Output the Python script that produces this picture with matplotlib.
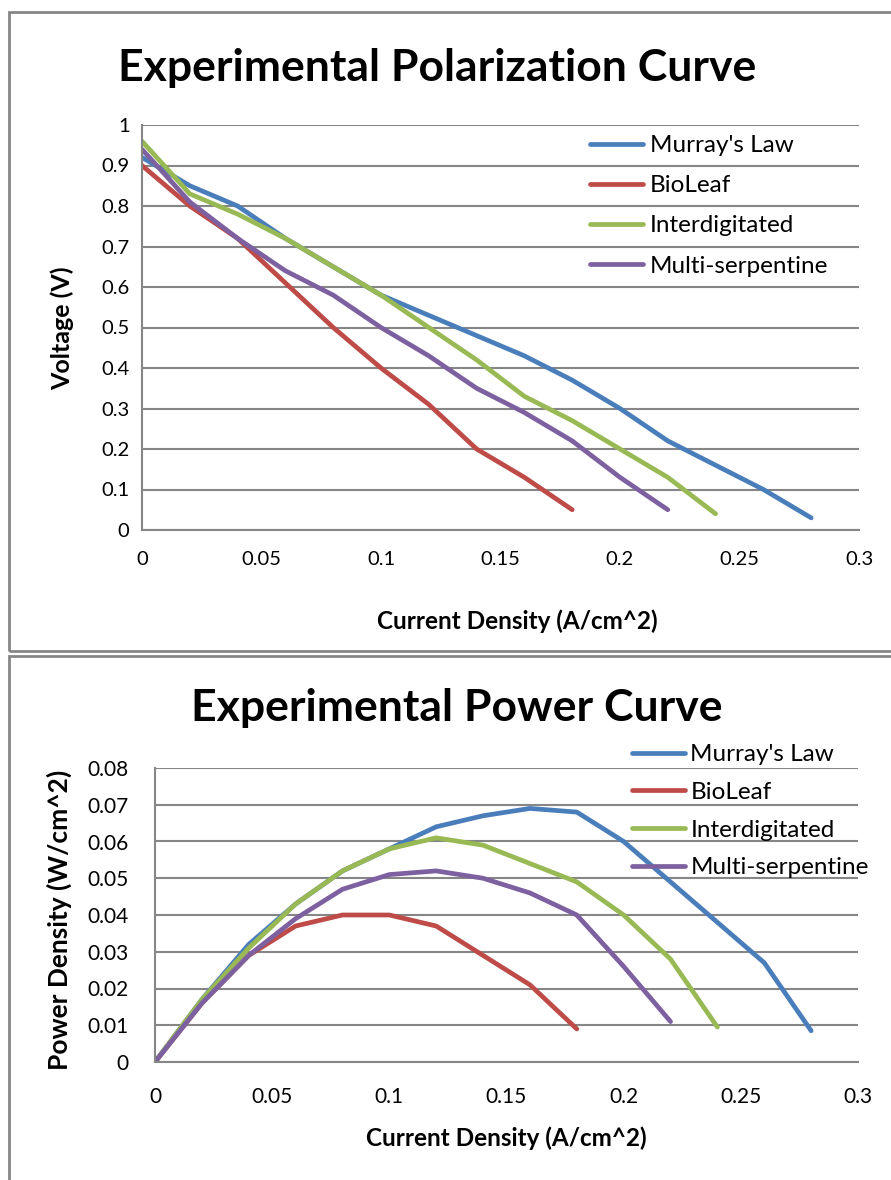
import matplotlib
matplotlib.use("Agg")
import matplotlib.pyplot as plt
from matplotlib.patches import Rectangle

plt.rcParams['font.family'] = ['Lato', 'DejaVu Sans']

# polarization data (A/cm^2, V)
series_names = ["Murray's Law", "BioLeaf", "Interdigitated", "Multi-serpentine"]
series_colors = ["#4A7EBB", "#BE4B48", "#98B954", "#7D60A0"]

murray_i = [0, 0.02, 0.04, 0.06, 0.08, 0.10, 0.12, 0.14, 0.16, 0.18, 0.20, 0.22, 0.24, 0.26, 0.28]
murray_v = [0.92, 0.85, 0.80, 0.72, 0.65, 0.58, 0.53, 0.48, 0.43, 0.37, 0.30, 0.22, 0.16, 0.10, 0.03]
murray_p = [0, 0.017, 0.032, 0.043, 0.052, 0.058, 0.064, 0.067, 0.069, 0.068, 0.060, 0.049, 0.038, 0.027, 0.0085]

bioleaf_i = [0, 0.02, 0.04, 0.06, 0.08, 0.10, 0.12, 0.14, 0.16, 0.18]
bioleaf_v = [0.90, 0.80, 0.72, 0.61, 0.50, 0.40, 0.31, 0.20, 0.13, 0.05]
bioleaf_p = [0, 0.016, 0.029, 0.037, 0.040, 0.040, 0.037, 0.029, 0.021, 0.009]

inter_i = [0, 0.02, 0.04, 0.06, 0.08, 0.10, 0.12, 0.14, 0.16, 0.18, 0.20, 0.22, 0.24]
inter_v = [0.96, 0.83, 0.78, 0.72, 0.65, 0.58, 0.50, 0.42, 0.33, 0.27, 0.20, 0.13, 0.04]
inter_p = [0, 0.017, 0.031, 0.043, 0.052, 0.058, 0.061, 0.059, 0.054, 0.049, 0.040, 0.028, 0.0095]

serp_i = [0, 0.02, 0.04, 0.06, 0.08, 0.10, 0.12, 0.14, 0.16, 0.18, 0.20, 0.22]
serp_v = [0.94, 0.81, 0.72, 0.64, 0.58, 0.50, 0.43, 0.35, 0.29, 0.22, 0.13, 0.05]
serp_p = [0, 0.016, 0.029, 0.039, 0.047, 0.051, 0.052, 0.050, 0.046, 0.040, 0.026, 0.011]

x_ticks = [0, 0.05, 0.1, 0.15, 0.2, 0.25, 0.3]
x_labels = ["0", "0.05", "0.1", "0.15", "0.2", "0.25", "0.3"]
v_ticks = [0, 0.1, 0.2, 0.3, 0.4, 0.5, 0.6, 0.7, 0.8, 0.9, 1]
v_labels = ["0", "0.1", "0.2", "0.3", "0.4", "0.5", "0.6", "0.7", "0.8", "0.9", "1"]
p_ticks = [0, 0.01, 0.02, 0.03, 0.04, 0.05, 0.06, 0.07, 0.08]
p_labels = ["0", "0.01", "0.02", "0.03", "0.04", "0.05", "0.06", "0.07", "0.08"]

W, H = 891, 1180
fig = plt.figure(figsize=(W / 100, H / 100), dpi=100)

def fx(px):
    return px / W

def fy(py):
    return 1 - py / H

# chart frames (right/bottom edges run off the picture like in the screenshot)
fig.patches.append(Rectangle((fx(9), fy(651)), fx(900 - 9), fy(12) - fy(651),
                             transform=fig.transFigure, fill=False, ec="#868686", lw=2))
fig.patches.append(Rectangle((fx(9), fy(1200)), fx(900 - 9), fy(656) - fy(1200),
                             transform=fig.transFigure, fill=False, ec="#868686", lw=2))

grid_col = "#868686"

def style_axes(ax, yticks, ylabels, xpad, ypad, size):
    ax.set_xlim(0, 0.3)
    ax.set_xticks(x_ticks)
    ax.set_xticklabels(x_labels)
    ax.set_yticks(yticks)
    ax.set_yticklabels(ylabels)
    ax.set_ylim(yticks[0], yticks[-1])
    ax.grid(axis="y", color=grid_col, lw=1.5)
    ax.set_axisbelow(True)
    for s in ["top", "right"]:
        ax.spines[s].set_visible(False)
    for s in ["left", "bottom"]:
        ax.spines[s].set_color(grid_col)
        ax.spines[s].set_linewidth(1.5)
    ax.tick_params(length=0, labelsize=size)
    ax.tick_params(axis="x", pad=xpad)
    ax.tick_params(axis="y", pad=ypad)

# top chart: polarization
ax1 = fig.add_axes([fx(142), fy(530), fx(859) - fx(142), fy(125) - fy(530)])
ax1.plot(murray_i, murray_v, color=series_colors[0], lw=3.4, solid_capstyle="round", label=series_names[0])
ax1.plot(bioleaf_i, bioleaf_v, color=series_colors[1], lw=3.4, solid_capstyle="round", label=series_names[1])
ax1.plot(inter_i, inter_v, color=series_colors[2], lw=3.4, solid_capstyle="round", label=series_names[2])
ax1.plot(serp_i, serp_v, color=series_colors[3], lw=3.4, solid_capstyle="round", label=series_names[3])
style_axes(ax1, v_ticks, v_labels, 15, 9, 14.5)
ax1.legend(loc="upper left", bbox_to_anchor=(fx(590), fy(135)), bbox_transform=fig.transFigure,
           frameon=False, fontsize=17.5, handlelength=2.2, handletextpad=0.25, labelspacing=0.79,
           borderaxespad=0, borderpad=0)

fig.text(fx(437), fy(68), "Experimental Polarization Curve", ha="center", va="center",
         fontsize=32, fontweight="bold")
fig.text(fx(517), fy(621), "Current Density (A/cm^2)", ha="center", va="center",
         fontsize=17.5, fontweight="bold")
fig.text(fx(62), fy(328), "Voltage (V)", ha="center", va="center", rotation=90,
         fontsize=18, fontweight="bold")

# bottom chart: power
ax2 = fig.add_axes([fx(155), fy(1062), fx(858) - fx(155), fy(768) - fy(1062)])
ax2.plot(murray_i, murray_p, color=series_colors[0], lw=3.4, solid_capstyle="round", label=series_names[0])
ax2.plot(bioleaf_i, bioleaf_p, color=series_colors[1], lw=3.4, solid_capstyle="round", label=series_names[1])
ax2.plot(inter_i, inter_p, color=series_colors[2], lw=3.4, solid_capstyle="round", label=series_names[2])
ax2.plot(serp_i, serp_p, color=series_colors[3], lw=3.4, solid_capstyle="round", label=series_names[3])
style_axes(ax2, p_ticks, p_labels, 18, 19, 15)
ax2.legend(loc="upper left", bbox_to_anchor=(fx(632), fy(744)), bbox_transform=fig.transFigure,
           frameon=False, fontsize=17.5, handlelength=2.2, handletextpad=0.2, labelspacing=0.69,
           borderaxespad=0, borderpad=0)

fig.text(fx(457), fy(708), "Experimental Power Curve", ha="center", va="center",
         fontsize=32, fontweight="bold")
fig.text(fx(506), fy(1138), "Current Density (A/cm^2)", ha="center", va="center",
         fontsize=17.5, fontweight="bold")
fig.text(fx(59), fy(920), "Power Density (W/cm^2)", ha="center", va="center", rotation=90,
         fontsize=19, fontweight="bold")

fig.savefig("out.png", dpi=100)
